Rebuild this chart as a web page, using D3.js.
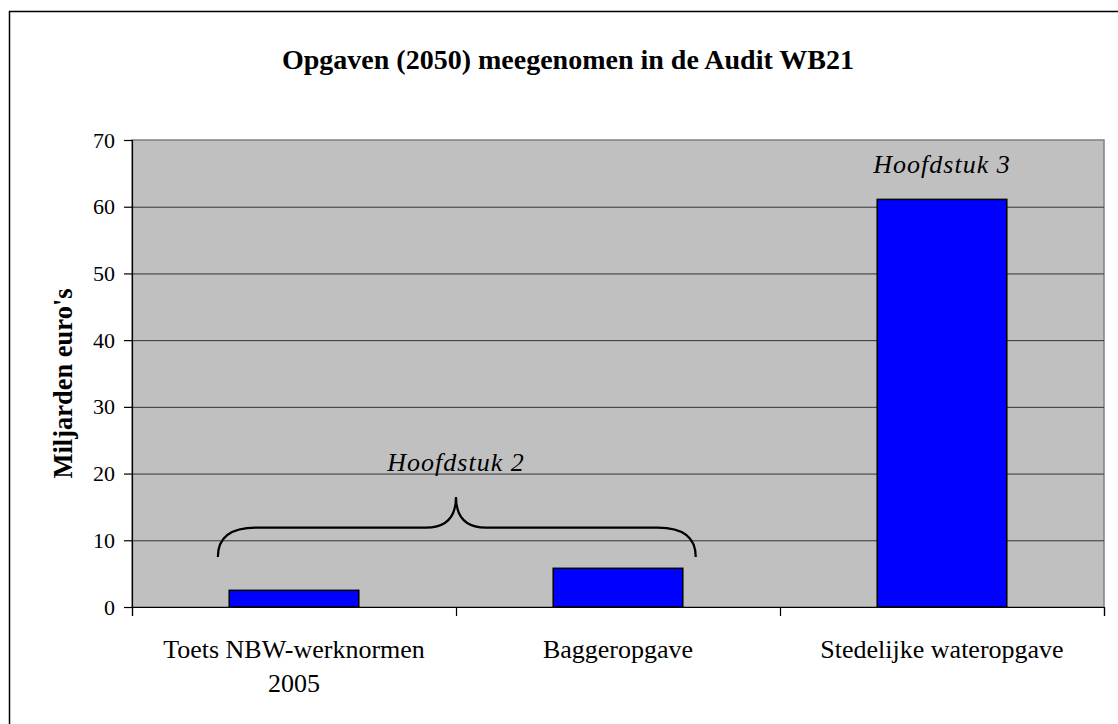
<!DOCTYPE html>
<html>
<head>
<meta charset="utf-8">
<script src="https://cdn.jsdelivr.net/npm/d3@7"></script>
<style>
  html, body { margin: 0; padding: 0; background: #fff; }
  svg { display: block; font-family: 'Liberation Serif', 'Times New Roman', serif; }
</style>
</head>
<body>
<svg id="vis" width="1118" height="724"></svg>
<script>
'use strict';

// chart values
var categories = ['Toets NBW-werknormen 2005', 'Baggeropgave', 'Stedelijke wateropgave'];
var labelLines = [['Toets NBW-werknormen', '2005'], ['Baggeropgave'], ['Stedelijke wateropgave']];
var values = [2.5, 5.8, 61.1];
var yTicks = [0, 10, 20, 30, 40, 50, 60, 70];

// brace over the first two categories (x in category units, y in data units)
var braceX = [0.265, 1.0, 1.74];
var braceY = [7.5, 11.9, 16.5];
var notes = [
    {text: 'Hoofdstuk 2', pos: 1.0, value: 20.4},
    {text: 'Hoofdstuk 3', pos: 2.5, value: 65.0}
];

(function () {
    var svg = d3.select('#vis');
    var margin = {top: 140, left: 132, right: 14, bottom: 117};
    var width = 1118 - margin.left - margin.right;
    var height = 724 - margin.top - margin.bottom;

    // outer chart frame (cut off at right and bottom)
    svg.append('rect')
        .attr('x', 9.5).attr('y', 11.5)
        .attr('width', 1130).attr('height', 730)
        .attr('fill', '#fff')
        .attr('stroke', '#000')
        .attr('stroke-width', 1.5);

    svg.append('text')
        .attr('x', 568).attr('y', 69)
        .attr('text-anchor', 'middle')
        .style('font-size', '28px')
        .style('font-weight', 'bold')
        .text('Opgaven (2050) meegenomen in de Audit WB21');

    var g = svg.append('g')
        .attr('transform', 'translate(' + margin.left + ',' + margin.top + ')');

    var x = d3.scaleBand().domain(categories).range([0, width])
        .paddingInner(0.6).paddingOuter(0.3);
    var pos = d3.scaleLinear().domain([0, categories.length]).range([0, width]);
    var y = d3.scaleLinear().domain([0, 70]).range([height, 0]);

    // plot area
    g.append('rect')
        .attr('width', width).attr('height', height)
        .attr('fill', '#c0c0c0')
        .attr('stroke', '#808080')
        .attr('stroke-width', 1.5);

    // gridlines
    g.append('g')
        .attr('class', 'grid')
        .call(d3.axisLeft(y).tickValues(yTicks.slice(1, -1)).tickSize(-width).tickFormat(''))
        .call(function (s) {
            s.select('.domain').remove();
            s.selectAll('line').attr('stroke', '#333').attr('stroke-width', 1);
        });

    // bars
    g.selectAll('.bar')
        .data(values)
        .enter().append('rect')
        .attr('class', 'bar')
        .attr('x', function (d, i) { return x(categories[i]); })
        .attr('y', function (d) { return y(d); })
        .attr('width', x.bandwidth())
        .attr('height', function (d) { return height - y(d); })
        .attr('fill', '#0000ff')
        .attr('stroke', '#000')
        .attr('stroke-width', 1.5);

    // y axis
    g.append('g')
        .call(d3.axisLeft(y).tickValues(yTicks).tickSize(8).tickPadding(9))
        .call(function (s) {
            s.selectAll('text').style('font-size', '22px').attr('fill', '#000')
                .style('font-family', "'Liberation Serif', serif");
            s.selectAll('line, path').attr('stroke', '#000').attr('stroke-width', 1.2);
        });

    // x axis: ticks between categories
    g.append('g')
        .attr('transform', 'translate(0,' + height + ')')
        .call(d3.axisBottom(pos).tickValues(d3.range(categories.length + 1)).tickSize(9).tickFormat(''))
        .call(function (s) {
            s.selectAll('line, path').attr('stroke', '#000').attr('stroke-width', 1.2);
        });

    // category labels
    var lab = g.selectAll('.xlabel')
        .data(labelLines)
        .enter().append('text')
        .attr('class', 'xlabel')
        .attr('text-anchor', 'middle')
        .attr('transform', function (d, i) {
            return 'translate(' + (x(categories[i]) + x.bandwidth() / 2) + ',' + (height + 51) + ')';
        })
        .style('font-size', '26px');
    lab.selectAll('tspan')
        .data(function (d) { return d; })
        .enter().append('tspan')
        .attr('x', 0)
        .attr('dy', function (d, i) { return i === 0 ? 0 : 34; })
        .text(function (d) { return d; });

    // y axis title
    svg.append('text')
        .attr('transform', 'translate(72,' + (margin.top + height / 2 + 10) + ') rotate(-90)')
        .attr('text-anchor', 'middle')
        .style('font-size', '26.5px')
        .style('font-weight', 'bold')
        .text("Miljarden euro's");

    // brace
    var x0 = pos(braceX[0]), xm = pos(braceX[1]), x1 = pos(braceX[2]);
    var yEnd = y(braceY[0]), yMid = y(braceY[1]), yTip = y(braceY[2]);
    var r = 38;
    var p = d3.path();
    p.moveTo(x0, yEnd);
    p.quadraticCurveTo(x0, yMid, x0 + r, yMid);
    p.lineTo(xm - 30, yMid);
    p.quadraticCurveTo(xm, yMid, xm, yTip);
    p.quadraticCurveTo(xm, yMid, xm + 30, yMid);
    p.lineTo(x1 - r, yMid);
    p.quadraticCurveTo(x1, yMid, x1, yEnd);
    g.append('path')
        .attr('d', p.toString())
        .attr('fill', 'none')
        .attr('stroke', '#000')
        .attr('stroke-width', 2.2);

    // chapter notes
    g.selectAll('.note')
        .data(notes)
        .enter().append('text')
        .attr('class', 'note')
        .attr('x', function (d) { return pos(d.pos); })
        .attr('y', function (d) { return y(d.value); })
        .attr('text-anchor', 'middle')
        .style('font-size', '26px')
        .style('font-style', 'italic')
        .style('letter-spacing', '1px')
        .text(function (d) { return d.text; });
})();
</script>
</body>
</html>
